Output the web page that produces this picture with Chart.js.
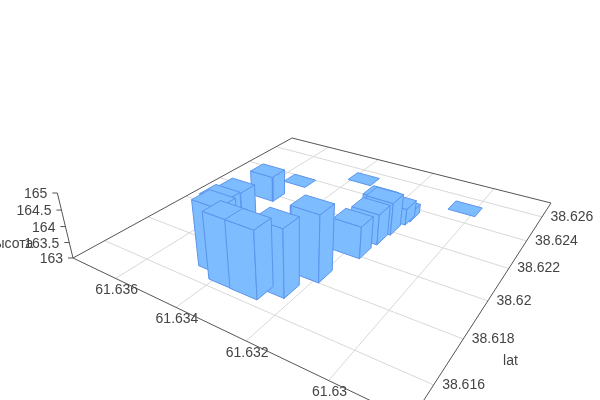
<!DOCTYPE html>
<html>
<head>
<meta charset="utf-8">
<script src="https://cdn.jsdelivr.net/npm/chart.js@4"></script>
<style>
  body { margin: 0; background: #fff; }
  canvas { display: block; }
</style>
</head>
<body>
<canvas id="chart" width="600" height="400"></canvas>
<script>
// tick labels
const lonTicks = [61.636, 61.634, 61.632, 61.63];
const latTicks = [38.626, 38.624, 38.622, 38.62, 38.618, 38.616];
const heightTicks = [163, 163.5, 164, 164.5, 165];

// bars
const barLon = [61.63306, 61.63372, 61.63431, 61.63258, 61.63225, 61.63495, 61.63561, 61.6356,
  61.63532, 61.63368, 61.63028, 61.63195, 61.63189, 61.63182, 61.63222, 61.63172, 61.63168];
const barLat = [38.61668, 38.61669, 38.61706, 38.61718, 38.6184, 38.61825, 38.62007, 38.62193,
  38.62361, 38.62521, 38.62506, 38.62027, 38.62134, 38.62217, 38.62295, 38.62309, 38.6234];
const barHeight = [165, 165, 165, 165, 165, 164.55, 163.95, 163.85,
  163, 163, 163, 164, 163.97, 164.04, 163.7, 163.53, 163.3];
const barSize = 0.0008;

const lonRange = [61.6283, 61.6376];
const latRange = [38.6147, 38.6273];
const heightMin = 163;

// camera: where the floor corners land, and the vanishing point of the verticals
const floorBack = [292, 138], floorRight = [551, 203], floorFront = [411, 420], floorLeft = [73, 258];
const vanish = [300, 1200];
const heightPersp = -0.02195;

const dx1 = floorRight[0] - floorFront[0], dx2 = floorLeft[0] - floorFront[0];
const dy1 = floorRight[1] - floorFront[1], dy2 = floorLeft[1] - floorFront[1];
const sx = floorBack[0] - floorRight[0] + floorFront[0] - floorLeft[0];
const sy = floorBack[1] - floorRight[1] + floorFront[1] - floorLeft[1];
const det = dx1 * dy2 - dx2 * dy1;
const g = (sx * dy2 - dx2 * sy) / det;
const h = (dx1 * sy - sx * dy1) / det;

function depth(lon, lat) {
    const a = (lonRange[1] - lon) / (lonRange[1] - lonRange[0]);
    const b = (latRange[1] - lat) / (latRange[1] - latRange[0]);
    return 1 + g * a + h * b;
}

function project(lon, lat, height) {
    const a = (lonRange[1] - lon) / (lonRange[1] - lonRange[0]);
    const b = (latRange[1] - lat) / (latRange[1] - latRange[0]);
    const z = heightPersp * (height - heightMin);
    const w = 1 + g * a + h * b + z;
    const px = (floorRight[0] - floorBack[0] + g * floorRight[0]) * a
        + (floorLeft[0] - floorBack[0] + h * floorLeft[0]) * b + floorBack[0] + z * vanish[0];
    const py = (floorRight[1] - floorBack[1] + g * floorRight[1]) * a
        + (floorLeft[1] - floorBack[1] + h * floorLeft[1]) * b + floorBack[1] + z * vanish[1];
    return { x: px / w, y: py / w };
}

function lineSet(points, color, width) {
    return {
        data: points, showLine: true, fill: false, borderColor: color, borderWidth: width,
        pointRadius: 0, tension: 0
    };
}

function faceSet(points) {
    return {
        data: points.concat([points[0]]), showLine: true, fill: 'shape',
        backgroundColor: '#7dbcff', borderColor: '#5c94ec', borderWidth: 1,
        pointRadius: 0, tension: 0, borderJoinStyle: 'round'
    };
}

function buildDatasets() {
    const sets = [];
    const gridColor = '#d8d8d8', axisColor = '#555555';
    lonTicks.forEach(lon => sets.push(lineSet(
        [project(lon, latRange[0], heightMin), project(lon, latRange[1], heightMin)], gridColor, 1)));
    latTicks.forEach(lat => sets.push(lineSet(
        [project(lonRange[0], lat, heightMin), project(lonRange[1], lat, heightMin)], gridColor, 1)));

    const left = project(lonRange[1], latRange[0], heightMin);
    const back = project(lonRange[1], latRange[1], heightMin);
    const right = project(lonRange[0], latRange[1], heightMin);
    const front = project(lonRange[0], latRange[0], heightMin);
    sets.push(lineSet([left, back, right, front, left], axisColor, 1));
    sets.push(lineSet([left, project(lonRange[1], latRange[0], heightTicks[heightTicks.length - 1])], axisColor, 1));
    heightTicks.forEach(t => {
        const p = project(lonRange[1], latRange[0], t);
        sets.push(lineSet([p, { x: p.x - 5, y: p.y }], axisColor, 1));
    });

    // far bars first
    const order = barLon.map((_, i) => i)
        .sort((i, j) => depth(barLon[j], barLat[j]) - depth(barLon[i], barLat[i]));
    order.forEach(i => {
        const r = barSize / 2;
        const lo = barLon[i], la = barLat[i], t = barHeight[i];
        const c = (dLon, dLat, ht) => project(lo + dLon, la + dLat, ht);
        // side facing the low latitude, side facing the low longitude, then the top
        if (t > heightMin) {
            sets.push(faceSet([c(r, -r, heightMin), c(-r, -r, heightMin), c(-r, -r, t), c(r, -r, t)]));
            sets.push(faceSet([c(-r, -r, heightMin), c(-r, r, heightMin), c(-r, r, t), c(-r, -r, t)]));
        }
        sets.push(faceSet([c(r, -r, t), c(-r, -r, t), c(-r, r, t), c(r, r, t)]));
    });
    // chart.js paints the first dataset last
    return sets.reverse();
}

const axisText = {
    id: 'axisText',
    afterDraw(chart) {
        const ctx = chart.ctx;
        const sx = chart.scales.x, sy = chart.scales.y;
        const put = (text, p, dx, dy, align) => {
            ctx.textAlign = align;
            ctx.fillText(text, sx.getPixelForValue(p.x) + dx, sy.getPixelForValue(p.y) + dy);
        };
        ctx.save();
        ctx.font = '14px "Liberation Sans"';
        ctx.fillStyle = '#444444';
        ctx.textBaseline = 'middle';
        lonTicks.forEach(t => put(String(t), project(t, latRange[0], heightMin), 1, 12, 'center'));
        latTicks.forEach(t => put(String(t), project(lonRange[0], t, heightMin), 8.5, 0, 'left'));
        heightTicks.forEach(t => put(String(t), project(lonRange[1], latRange[0], t), -10, 1.5, 'right'));
        put('высота', project(lonRange[1], latRange[0], 163.5), -36, 1.5, 'right');
        put('lat', project(lonRange[0], 38.6172, heightMin), 51, 5, 'left');
        ctx.restore();
    }
};

new Chart(document.getElementById('chart').getContext('2d'), {
    type: 'scatter',
    data: { datasets: buildDatasets() },
    plugins: [axisText],
    options: {
        responsive: false,
        animation: false,
        layout: { padding: 0 },
        scales: {
            x: { type: 'linear', min: 0, max: 600, display: false },
            y: { type: 'linear', min: 0, max: 400, reverse: true, display: false }
        },
        plugins: { legend: { display: false }, tooltip: { enabled: false } }
    }
});
</script>
</body>
</html>
